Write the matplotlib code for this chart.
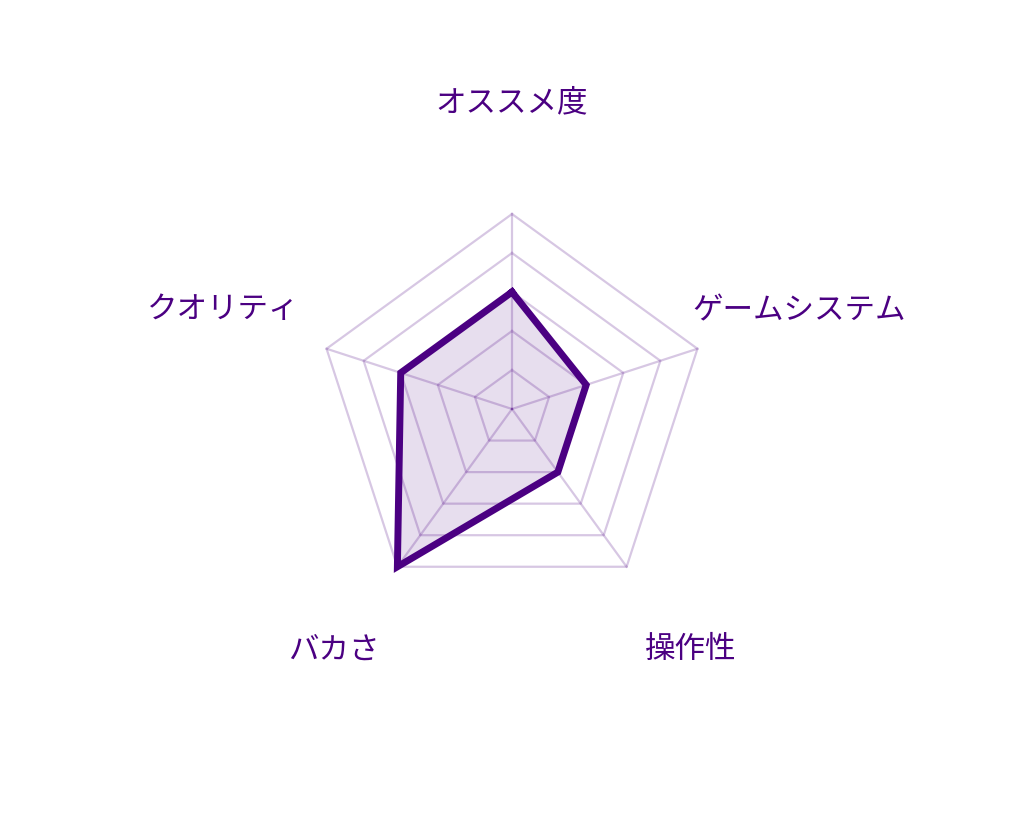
import numpy as np
import matplotlib
matplotlib.use("Agg")
import matplotlib.pyplot as plt

plt.rcParams['font.family'] = ['Noto Sans CJK JP', 'DejaVu Sans']

categories = ["オススメ度", "ゲームシステム", "操作性", "バカさ", "クオリティ"]
values = [3, 2, 2, 5, 3]
max_value = 5
levels = [1, 2, 3, 4, 5]

LINE = "#4B0082"
GRID = "#4B0082"

n = len(categories)
theta = np.arange(n) * 2 * np.pi / n


def to_xy(r, th):
    r = np.asarray(r, dtype=float)
    return r * np.sin(th), r * np.cos(th)


fig = plt.figure(figsize=(10.24, 8.2), dpi=100)
ax = fig.add_axes([0, 0, 1, 1])
ax.set_xlim(-512 / 39, 512 / 39)
ax.set_ylim(-410 / 39, 410 / 39)
ax.set_aspect("equal")
ax.axis("off")

# pentagon grid rings
for lv in levels:
    th = np.append(theta, theta[0])
    gx, gy = to_xy(np.full(n + 1, lv), th)
    ax.plot(gx, gy, color=GRID, alpha=0.22, lw=1.6, zorder=1)

# spokes
for th in theta:
    sx, sy = to_xy([0, max_value], np.array([th, th]))
    ax.plot(sx, sy, color=GRID, alpha=0.22, lw=1.6, zorder=1)

# data polygon
th = np.append(theta, theta[0])
vals = np.append(values, values[0])
dx, dy = to_xy(vals, th)
ax.fill(dx, dy, color=LINE, alpha=0.13, lw=0, zorder=2)
ax.plot(dx, dy, color=LINE, lw=5, solid_joinstyle="miter", zorder=3)

# labels (radius in grid units, direction in degrees clockwise from top)
label_r = [7.87, 7.79, 7.66, 7.66, 7.84]
label_deg = [0, 70.97, 143.4, 216.6, 289.1]
for cat, lr, ld in zip(categories, label_r, label_deg):
    lx, ly = to_xy(lr, np.deg2rad(ld))
    ax.text(lx, ly, cat, ha="center", va="center", fontsize=22, color=LINE)

fig.savefig("out.png", dpi=100)
